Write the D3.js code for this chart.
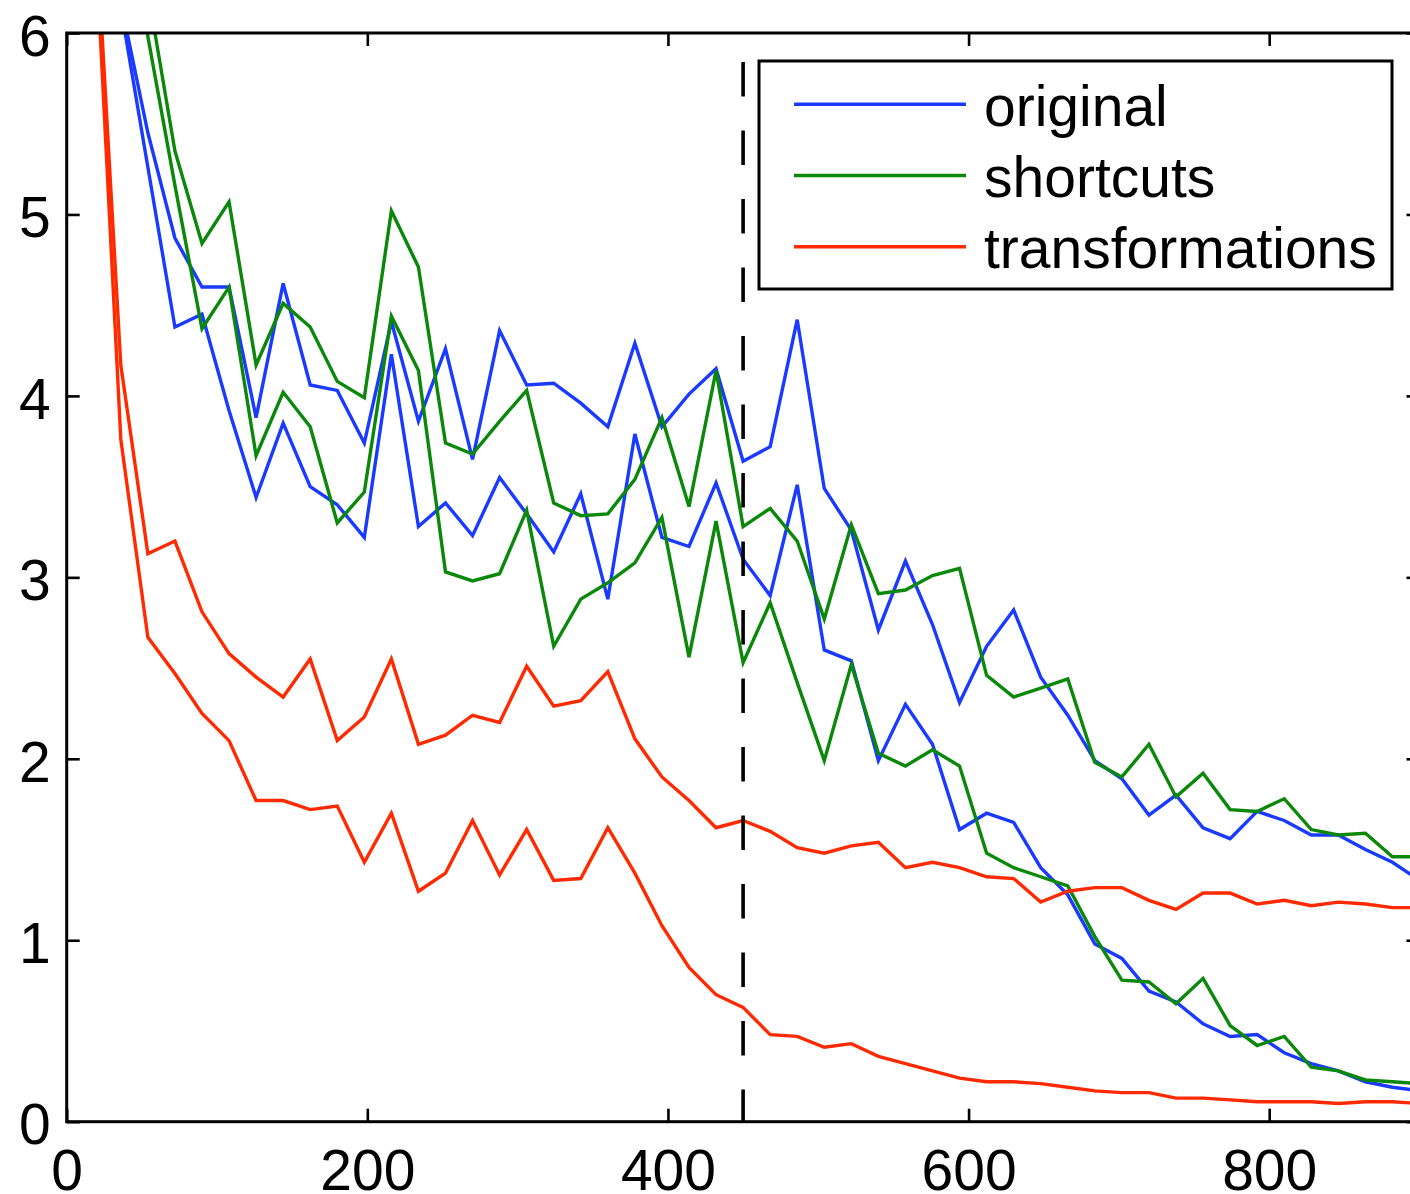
<!DOCTYPE html>
<html>
<head>
<meta charset="utf-8">
<script src="https://cdn.jsdelivr.net/npm/d3@7"></script>
<style>
  body { margin: 0; background: #fff; overflow: hidden; }
  svg { display: block; }
</style>
</head>
<body>
<div id="chart"></div>
<script>
const W = 1410, H = 1194;

// --- Data (x = sample count, one point every 18) ---
const xs = [18, 36, 54, 72, 90, 108, 126, 144, 162, 180,
  198, 216, 234, 252, 270, 288, 306, 324, 342, 360,
  378, 396, 414, 432, 450, 468, 486, 504, 522, 540,
  558, 576, 594, 612, 630, 648, 666, 684, 702, 720,
  738, 756, 774, 792, 810, 828, 846, 864, 882, 900];

const originalA = [7.6, 6.17, 5.45, 4.87, 4.60, 4.60, 3.88, 4.62, 4.06, 4.03,
  3.74, 4.41, 3.86, 4.26, 3.65, 4.36, 4.06, 4.07, 3.96, 3.83,
  4.29, 3.83, 4.01, 4.15, 3.64, 3.72, 4.42, 3.49, 3.26, 2.71,
  3.09, 2.74, 2.31, 2.62, 2.82, 2.45, 2.24, 1.99, 1.89, 1.69,
  1.80, 1.62, 1.56, 1.71, 1.66, 1.58, 1.58, 1.50, 1.43, 1.33];

const originalB = [7.5, 6.14, 5.26, 4.38, 4.45, 3.92, 3.44, 3.85, 3.50, 3.40,
  3.22, 4.23, 3.28, 3.41, 3.23, 3.55, 3.35, 3.14, 3.46, 2.88,
  3.79, 3.22, 3.17, 3.52, 3.10, 2.90, 3.51, 2.60, 2.54, 1.99,
  2.30, 2.08, 1.61, 1.70, 1.65, 1.40, 1.25, 0.98, 0.90, 0.72,
  0.66, 0.54, 0.47, 0.48, 0.38, 0.32, 0.28, 0.22, 0.19, 0.17];

const shortcutsA = [8.0, 7.3, 6.23, 5.35, 4.84, 5.07, 4.17, 4.51, 4.38, 4.08,
  3.99, 5.02, 4.71, 3.74, 3.68, 3.86, 4.03, 3.41, 3.34, 3.35,
  3.54, 3.88, 3.39, 4.14, 3.28, 3.38, 3.20, 2.77, 3.29, 2.91,
  2.93, 3.01, 3.05, 2.46, 2.34, 2.39, 2.44, 1.98, 1.90, 2.08,
  1.79, 1.92, 1.72, 1.71, 1.78, 1.61, 1.58, 1.59, 1.46, 1.46];

const shortcutsB = [7.8, 7.0, 5.98, 5.16, 4.37, 4.60, 3.67, 4.02, 3.83, 3.30,
  3.47, 4.44, 4.14, 3.03, 2.98, 3.02, 3.37, 2.62, 2.88, 2.97,
  3.08, 3.33, 2.56, 3.31, 2.53, 2.86, 2.42, 1.99, 2.52, 2.03,
  1.96, 2.05, 1.96, 1.48, 1.40, 1.35, 1.30, 1.02, 0.78, 0.77,
  0.65, 0.79, 0.53, 0.42, 0.47, 0.30, 0.28, 0.23, 0.22, 0.21];

const transformationsA = [6.8, 4.17, 3.13, 3.20, 2.81, 2.58, 2.45, 2.34, 2.55, 2.10,
  2.23, 2.55, 2.08, 2.13, 2.24, 2.20, 2.51, 2.29, 2.32, 2.48,
  2.11, 1.90, 1.77, 1.62, 1.66, 1.60, 1.51, 1.48, 1.52, 1.54,
  1.40, 1.43, 1.40, 1.35, 1.34, 1.21, 1.27, 1.29, 1.29, 1.22,
  1.17, 1.26, 1.26, 1.20, 1.22, 1.19, 1.21, 1.20, 1.18, 1.18];

const transformationsB = [6.7, 3.76, 2.67, 2.47, 2.25, 2.10, 1.77, 1.77, 1.72, 1.74,
  1.43, 1.70, 1.27, 1.37, 1.66, 1.36, 1.61, 1.33, 1.34, 1.62,
  1.37, 1.08, 0.85, 0.70, 0.63, 0.48, 0.47, 0.41, 0.43, 0.36,
  0.32, 0.28, 0.24, 0.22, 0.22, 0.21, 0.19, 0.17, 0.16, 0.16,
  0.13, 0.13, 0.12, 0.11, 0.11, 0.11, 0.10, 0.11, 0.11, 0.10];

const legendLabels = ["original", "shortcuts", "transformations"];
const legendColors = ["#1a3aff", "#0a880a", "#ff2a00"];

const xTicks = [0, 200, 400, 600, 800];
const yTicks = [0, 1, 2, 3, 4, 5, 6];

// vertical marker (dashed)
const markerX = 450;
const markerTop = 5.84;

const series = [
  { values: originalA, color: legendColors[0] },
  { values: originalB, color: legendColors[0] },
  { values: shortcutsA, color: legendColors[1] },
  { values: shortcutsB, color: legendColors[1] },
  { values: transformationsA, color: legendColors[2] },
  { values: transformationsB, color: legendColors[2] }
];

// --- Scales ---
const x = d3.scaleLinear().domain([0, 900]).range([66.7, 1419.5]);
const y = d3.scaleLinear().domain([0, 6]).range([1121.7, 33]);

const FONT = "'Liberation Sans', Arial, Helvetica, sans-serif";
const TICK_FONT = 57;

const svg = d3.select("#chart").append("svg")
  .attr("width", W)
  .attr("height", H)
  .style("background", "#fff");

svg.append("clipPath").attr("id", "plot-clip")
  .append("rect")
  .attr("x", x(0)).attr("y", y(6))
  .attr("width", x(900) - x(0)).attr("height", y(0) - y(6));

// --- Series lines ---
const line = d3.line()
  .x((d, i) => x(xs[i]))
  .y(d => y(d));

svg.append("g").attr("clip-path", "url(#plot-clip)")
  .selectAll("path")
  .data(series)
  .join("path")
  .attr("d", d => line(d.values))
  .attr("fill", "none")
  .attr("stroke", d => d.color)
  .attr("stroke-width", 3.4)
  .attr("stroke-linejoin", "miter");

// --- Dashed marker ---
svg.append("line")
  .attr("x1", x(markerX)).attr("x2", x(markerX))
  .attr("y1", y(markerTop)).attr("y2", y(0))
  .attr("stroke", "#000")
  .attr("stroke-width", 3.6)
  .attr("stroke-dasharray", "34.5,34");

// --- Axes (ticks point inward) ---
function styleAxis(g) {
  g.select(".domain").remove();
  g.selectAll(".tick line").attr("stroke", "#000").attr("stroke-width", 2.6);
  g.selectAll("text").attr("fill", "#000");
  g.attr("font-family", FONT).attr("font-size", TICK_FONT);
}

svg.append("g")
  .attr("transform", `translate(0,${y(0)})`)
  .call(d3.axisBottom(x).tickValues(xTicks).tickSize(-13).tickPadding(27.5).tickFormat(d3.format("d")))
  .call(styleAxis);

svg.append("g")
  .attr("transform", `translate(0,${y(6)})`)
  .call(d3.axisTop(x).tickValues(xTicks).tickSize(-13).tickFormat(""))
  .call(styleAxis);

svg.append("g")
  .attr("transform", `translate(${x(0)},0)`)
  .call(d3.axisLeft(y).tickValues(yTicks).tickSize(-13).tickPadding(16).tickFormat(d3.format("d")))
  .call(styleAxis)
  .selectAll("text").attr("dy", "0.39em");

svg.append("g")
  .attr("transform", `translate(${x(900)},0)`)
  .call(d3.axisRight(y).tickValues(yTicks).tickSize(-13).tickFormat(""))
  .call(styleAxis);

// frame
svg.append("rect")
  .attr("x", x(0)).attr("y", y(6))
  .attr("width", x(900) - x(0)).attr("height", y(0) - y(6))
  .attr("fill", "none")
  .attr("stroke", "#000")
  .attr("stroke-width", 3);

// --- Legend ---
const legend = svg.append("g").attr("transform", "translate(759,61)");
legend.append("rect")
  .attr("width", 633).attr("height", 228)
  .attr("fill", "#fff")
  .attr("stroke", "#000")
  .attr("stroke-width", 3);

const items = legend.selectAll("g.item")
  .data(legendLabels)
  .join("g")
  .attr("class", "item")
  .attr("transform", (d, i) => `translate(0,${43.3 + i * 71.2})`);

items.append("line")
  .attr("x1", 35).attr("x2", 207)
  .attr("stroke", (d, i) => legendColors[i])
  .attr("stroke-width", 3.4);

items.append("text")
  .attr("x", 225).attr("y", 21.5)
  .attr("font-family", FONT)
  .attr("font-size", 57)
  .attr("fill", "#000")
  .text(d => d);
</script>
</body>
</html>
